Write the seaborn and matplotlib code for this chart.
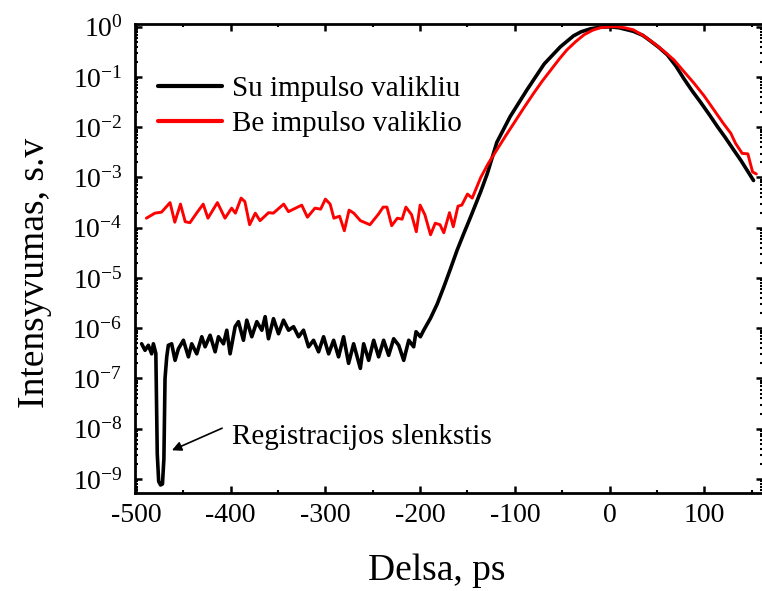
import numpy as np
import pandas as pd
import matplotlib
matplotlib.use("Agg")
import matplotlib.pyplot as plt
import seaborn as sns
from matplotlib.ticker import MultipleLocator, LogLocator, LogFormatterSciNotation, NullFormatter

# ---- data (delay in ps, log10 of intensity) ----
su_x = [-494.0, -490.4, -486.9, -483.4, -481.6, -479.0, -477.5, -476.0, -474.0, -472.0,
        -470.5, -469.3, -467.5, -465.8, -462.3, -458.7, -455.2, -449.9, -444.6, -441.1,
        -435.8, -430.5, -427.0, -421.7, -416.4, -412.9, -407.6, -404.1, -400.6, -395.3,
        -391.8, -386.5, -383.0, -377.7, -372.4, -367.1, -363.6, -360.1, -354.8, -349.5,
        -344.2, -338.9, -333.6, -328.3, -323.1, -317.8, -312.5, -307.2, -301.9, -296.6,
        -291.3, -286.1, -280.8, -275.5, -270.2, -263.1, -259.6, -254.3, -249.0, -243.8,
        -238.5, -233.2, -227.9, -222.6, -217.3, -212.0, -206.8, -204.3, -199.7, -196.2,
        -189.0, -182.0, -175.0, -168.0, -161.0, -154.0, -147.0, -136.0, -129.0, -119.0,
        -105.0, -87.0, -69.0, -52.0, -38.0, -30.0, -20.0, -10.0, 0.0, 10.0,
        25.0, 35.0, 43.0, 52.0, 61.0, 70.0, 78.0, 87.0, 96.0, 105.0,
        114.0, 122.0, 131.0, 139.0, 146.0, 152.0]
su_log10 = [-6.31, -6.44, -6.34, -6.51, -6.31, -6.50, -8.50, -9.05, -9.12, -9.10,
            -8.60, -7.00, -6.57, -6.34, -6.31, -6.64, -6.41, -6.24, -6.57, -6.31,
            -6.51, -6.17, -6.37, -6.14, -6.47, -6.17, -6.31, -6.04, -6.51, -5.97,
            -5.87, -6.24, -5.84, -6.17, -5.87, -6.04, -5.77, -6.21, -5.81, -6.11,
            -5.84, -6.04, -5.97, -6.17, -6.04, -6.37, -6.24, -6.47, -6.17, -6.51,
            -6.24, -6.57, -6.17, -6.70, -6.31, -6.80, -6.31, -6.64, -6.24, -6.57,
            -6.24, -6.54, -6.21, -6.34, -6.64, -6.24, -6.37, -6.07, -6.17, -6.04,
            -5.80, -5.52, -5.18, -4.82, -4.45, -4.12, -3.80, -3.28, -2.92, -2.30,
            -1.79, -1.25, -0.74, -0.40, -0.18, -0.10, -0.04, -0.01, 0.00, -0.02,
            -0.09, -0.17, -0.28, -0.41, -0.56, -0.78, -1.02, -1.27, -1.50, -1.74,
            -1.99, -2.20, -2.45, -2.67, -2.88, -3.06]

be_x = [-489, -480, -473, -464, -459, -453, -448, -443, -436, -429,
        -424, -414, -406, -399, -395, -389, -385, -380, -374, -369,
        -360, -355, -344, -339, -325, -319, -311, -305, -300, -295,
        -291, -285, -280, -275, -270, -263, -253, -244, -239, -235,
        -230, -224, -219, -215, -209, -204, -200, -195, -189, -184,
        -179, -175, -169, -165, -160, -156, -150, -145, -136, -128,
        -119, -110, -101, -90, -80, -71, -62, -53, -45, -36,
        -27, -18, -10, 0, 8, 16, 25, 36, 47, 57,
        68, 78, 89, 100, 110, 120, 128, 133, 140, 146,
        151, 155]
be_log10 = [-3.81, -3.71, -3.69, -3.50, -3.89, -3.53, -3.88, -3.90, -3.71, -3.53,
            -3.81, -3.50, -3.81, -3.61, -3.71, -3.41, -3.48, -3.94, -3.71, -3.86,
            -3.70, -3.71, -3.53, -3.68, -3.55, -3.79, -3.61, -3.63, -3.43, -3.53,
            -3.81, -3.77, -4.06, -3.65, -3.71, -3.86, -3.94, -3.73, -3.59, -3.59,
            -3.96, -3.81, -3.83, -3.59, -3.74, -4.08, -3.55, -3.74, -4.14, -3.91,
            -3.94, -4.10, -3.70, -3.98, -3.57, -3.55, -3.33, -3.41, -3.00, -2.72,
            -2.45, -2.18, -1.92, -1.60, -1.32, -1.08, -0.86, -0.64, -0.46, -0.30,
            -0.16, -0.07, -0.02, 0.00, 0.00, -0.02, -0.06, -0.18, -0.33, -0.48,
            -0.66, -0.88, -1.12, -1.38, -1.65, -1.92, -2.12, -2.32, -2.52, -2.53,
            -2.89, -2.93]

label_su = "Su impulso valikliu"
label_be = "Be impulso valiklio"
x_ticks = [-500, -400, -300, -200, -100, 0, 100]

df_su = pd.DataFrame({"x": su_x, "y": 10.0 ** np.array(su_log10)})
df_be = pd.DataFrame({"x": be_x, "y": 10.0 ** np.array(be_log10)})

sns.set_theme(style="ticks")
plt.rcParams["font.family"] = ["Liberation Serif", "DejaVu Serif"]
plt.rcParams["mathtext.fontset"] = "custom"
plt.rcParams["mathtext.rm"] = "Liberation Serif"
plt.rcParams["mathtext.it"] = "Liberation Serif:italic"
plt.rcParams["mathtext.default"] = "regular"
plt.rcParams["axes.unicode_minus"] = False
for k in ["text.color", "axes.labelcolor", "xtick.color", "ytick.color", "axes.edgecolor"]:
    plt.rcParams[k] = "black"

W, H = 762, 591
fig = plt.figure(figsize=(W / 100, H / 100), dpi=100)
L, R, T, B = 135, 763, 24, 493
ax = fig.add_axes([L / W, (H - B) / H, (R - L) / W, (B - T) / H])

sns.lineplot(data=df_su, x="x", y="y", ax=ax, color="black", lw=2.6,
             estimator=None, sort=False, label=label_su)
sns.lineplot(data=df_be, x="x", y="y", ax=ax, color="#ff0000", lw=2.1,
             estimator=None, sort=False, label=label_be)

ax.set_yscale("log")
ax.set_xlim(-501, 162)
ax.set_ylim(10 ** -9.28, 10 ** 0.055)

ax.set_xticks(x_ticks)
ax.xaxis.set_minor_locator(MultipleLocator(50))
ax.yaxis.set_major_locator(LogLocator(base=10, numticks=20))
ax.yaxis.set_minor_locator(LogLocator(base=10, subs=np.arange(2, 10), numticks=20))
ax.yaxis.set_major_formatter(LogFormatterSciNotation())
ax.yaxis.set_minor_formatter(NullFormatter())

for s in ax.spines.values():
    s.set_linewidth(2.0)
    s.set_color("black")
ax.tick_params(which="both", direction="in", top=True, right=True, colors="black")
ax.tick_params(which="major", length=5, width=1.8, labelsize=20)
ax.tick_params(which="minor", length=2.5, width=1.5)
ax.tick_params(axis="y", which="major", pad=9)
ax.tick_params(axis="x", which="major", pad=7)

ax.set_xlabel("Delsa, ps", fontsize=27)
ax.set_ylabel("Intensyvumas, s.v", fontsize=27)
ax.xaxis.set_label_coords(0.48, -0.128)
ax.yaxis.set_label_coords(-0.132, 0.47)

leg = ax.legend(loc="upper left", bbox_to_anchor=(0.0366, 0.89), frameon=False,
                fontsize=21, borderpad=0, borderaxespad=0, handlelength=2.2,
                handletextpad=0.35, labelspacing=0.3)
for line in leg.get_lines():
    line.set_linewidth(3)

ax.text(-399, 10 ** -8.17, "Registracijos slenkstis", fontsize=21,
        ha="left", va="center")
ax.annotate("", xy=(-462, 10 ** -8.43), xytext=(-409, 10 ** -7.99),
            arrowprops=dict(arrowstyle="-|>", color="black", lw=1.2,
                            mutation_scale=14, shrinkA=0, shrinkB=0))

fig.savefig("out.png", dpi=100)
